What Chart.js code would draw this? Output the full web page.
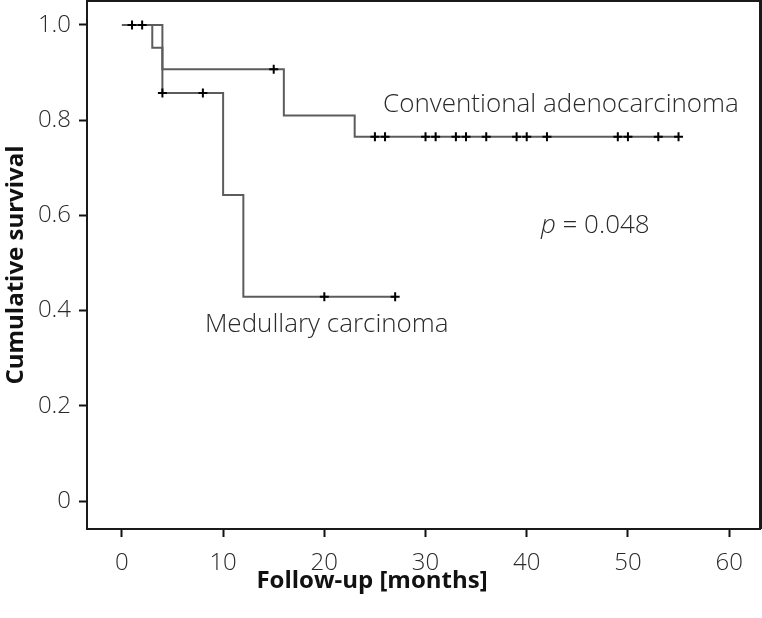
<!DOCTYPE html>
<html>
<head>
<meta charset="utf-8">
<script src="https://cdn.jsdelivr.net/npm/chart.js@4.4.1/dist/chart.umd.min.js"></script>
<style>
  html, body { margin: 0; padding: 0; background: #ffffff; }
  #wrap { width: 762px; height: 618px; position: relative; }
</style>
</head>
<body>
<div id="wrap"><canvas id="c" width="762" height="618"></canvas></div>
<script>
// ---- data ----
const convTimes = [0, 3, 4, 16, 23, 55];
const convSurv  = [1.0, 0.952, 0.907, 0.810, 0.765, 0.765];
const medTimes  = [0, 4, 10, 12, 27];
const medSurv   = [1.0, 0.857, 0.643, 0.429, 0.429];

const convCensorTimes = [1, 2, 15, 25, 26, 30, 31, 33, 34, 36, 39, 40, 42, 49, 50, 53, 55];
const convCensorSurv  = [1.0, 1.0, 0.907, 0.765, 0.765, 0.765, 0.765, 0.765, 0.765, 0.765, 0.765, 0.765, 0.765, 0.765, 0.765, 0.765, 0.765];
const medCensorTimes  = [4, 8, 20, 27];
const medCensorSurv   = [0.857, 0.857, 0.429, 0.429];

const xTickValues = [0, 10, 20, 30, 40, 50, 60];
const yTickValues = [0, 0.2, 0.4, 0.6, 0.8, 1.0];
const yTickLabels = ['0', '0.2', '0.4', '0.6', '0.8', '1.0'];

const curveLabels = ['Conventional adenocarcinoma', 'Medullary carcinoma'];
const pLabel = 'p';
const pValue = ' = 0.048';
const xTitle = 'Follow-up [months]';
const yTitle = 'Cumulative survival';

// ---- build datasets ----
function pts(xs, ys) { return xs.map((x, i) => ({ x: x, y: ys[i] })); }

const LINE_COLOR = '#5c5c5c';
const FONT = "'Open Sans', 'DejaVu Sans', sans-serif";

const annotations = {
  id: 'annotations',
  afterDraw(chart) {
    const ctx = chart.ctx;
    const xs = chart.scales.x, ys = chart.scales.y;
    const a = chart.chartArea;
    ctx.save();
    // frame
    ctx.strokeStyle = '#1a1a1a';
    ctx.lineWidth = 2;
    ctx.strokeRect(a.left, a.top, a.right - a.left, a.bottom - a.top);
    ctx.fillStyle = '#1a1a1a';
    ctx.fillRect(a.left, 0, a.right - a.left + 2, 2);
    ctx.fillRect(a.right - 1, 0, 3, a.bottom);

    ctx.fillStyle = '#2a2a2a';
    ctx.textBaseline = 'alphabetic';
    ctx.textAlign = 'left';
    ctx.font = "300 26px " + FONT;
    ctx.fillText(curveLabels[0], xs.getPixelForValue(25.8), ys.getPixelForValue(0.817));
    ctx.fillText(curveLabels[1], xs.getPixelForValue(8.2), ys.getPixelForValue(0.356));
    // p value
    const px = xs.getPixelForValue(41.4), py = ys.getPixelForValue(0.563);
    ctx.font = "italic 300 26px " + FONT;
    ctx.fillText(pLabel, px, py);
    const w = ctx.measureText(pLabel).width;
    ctx.font = "300 26px " + FONT;
    ctx.fillText(pValue, px + w, py);

    // axis titles
    ctx.fillStyle = '#111';
    ctx.font = "bold 24px " + FONT;
    ctx.textAlign = 'center';
    ctx.textBaseline = 'middle';
    ctx.fillText(xTitle, 372, 581);
    ctx.translate(16, (a.top + a.bottom) / 2);
    ctx.rotate(-Math.PI / 2);
    ctx.fillText(yTitle, 0, 0);
    ctx.restore();
  }
};

new Chart(document.getElementById('c'), {
  type: 'scatter',
  data: {
    datasets: [
      { data: pts(convTimes, convSurv), showLine: true, stepped: true, borderColor: LINE_COLOR, borderWidth: 2, pointRadius: 0, fill: false, order: 2 },
      { data: pts(medTimes, medSurv), showLine: true, stepped: true, borderColor: LINE_COLOR, borderWidth: 2, pointRadius: 0, fill: false, order: 2 },
      { data: pts(convCensorTimes, convCensorSurv), showLine: false, pointStyle: 'cross', pointRadius: 4.5, borderColor: '#000', borderWidth: 2, order: 1 },
      { data: pts(medCensorTimes, medCensorSurv), showLine: false, pointStyle: 'cross', pointRadius: 4.5, borderColor: '#000', borderWidth: 2, order: 1 }
    ]
  },
  options: {
    responsive: false,
    animation: false,
    layout: { autoPadding: false, padding: { top: 1, right: 2, left: 0, bottom: 0 } },
    plugins: { legend: { display: false }, tooltip: { enabled: false } },
    scales: {
      x: {
        type: 'linear', min: -3.45, max: 63.05,
        afterFit(s) { s.height = 89; s.paddingLeft = 0; s.paddingRight = 0; },
        afterBuildTicks(s) { s.ticks = xTickValues.map(v => ({ value: v })); },
        grid: { drawOnChartArea: false, drawTicks: true, tickLength: 8, tickColor: '#111', tickWidth: 2 },
        border: { display: true, color: '#111', width: 2 },
        ticks: { color: '#2a2a2a', padding: 12, font: { family: FONT, size: 24, weight: 300 }, maxRotation: 0, autoSkip: false }
      },
      y: {
        type: 'linear', min: -0.0588, max: 1.0504,
        afterFit(s) { s.width = 87; s.paddingTop = 0; s.paddingBottom = 0; },
        afterBuildTicks(s) { s.ticks = yTickValues.map(v => ({ value: v })); },
        grid: { drawOnChartArea: false, drawTicks: true, tickLength: 8, tickColor: '#111', tickWidth: 2 },
        border: { display: true, color: '#111', width: 2 },
        ticks: {
          color: '#2a2a2a', padding: 8, font: { family: FONT, size: 24, weight: 300 }, autoSkip: false,
          callback(v) { const i = yTickValues.indexOf(v); return i >= 0 ? yTickLabels[i] : ''; }
        }
      }
    }
  },
  plugins: [annotations]
});
</script>
</body>
</html>
